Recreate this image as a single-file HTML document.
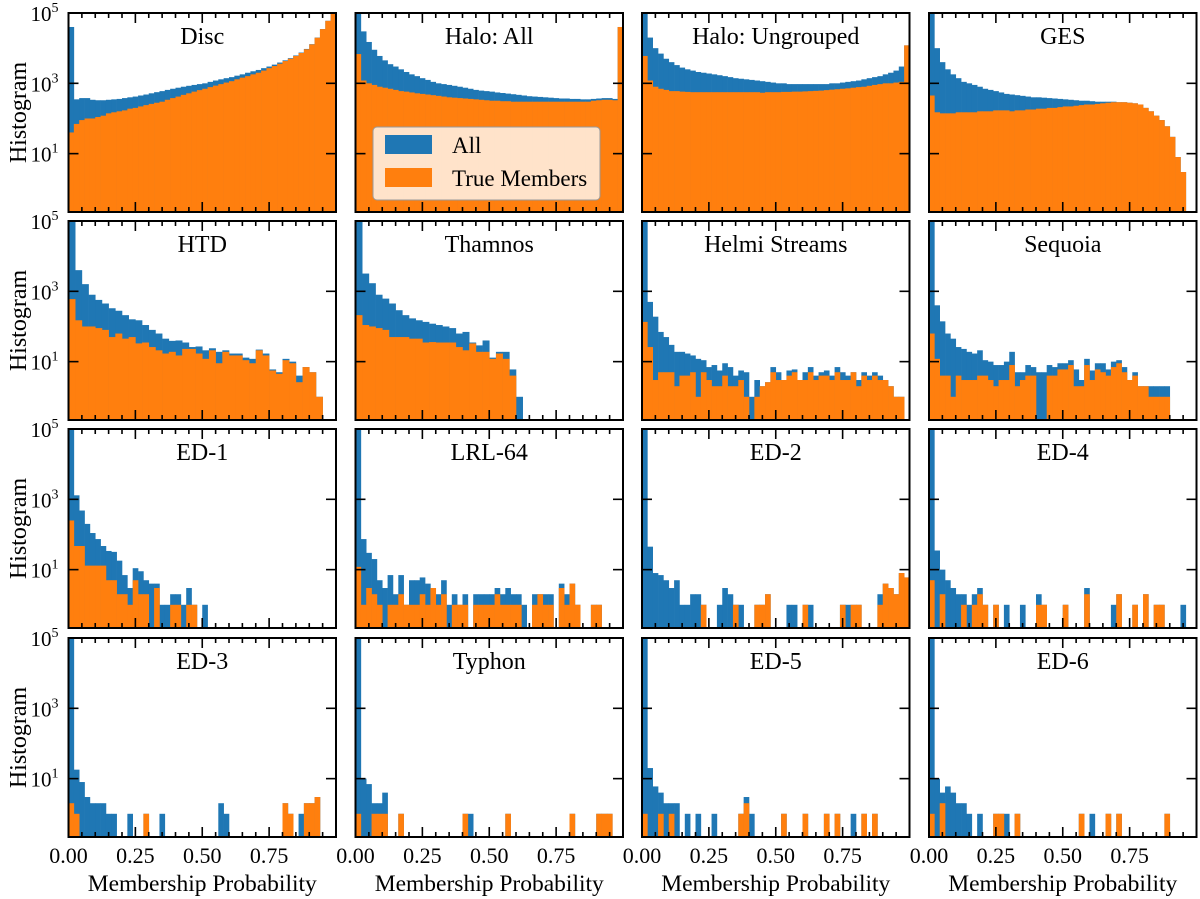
<!DOCTYPE html>
<html><head><meta charset="utf-8"><style>
body{margin:0;background:#fff;}
svg{display:block;font-family:"Liberation Serif",serif;}
</style></head><body>
<svg id="fig" width="1200" height="899" viewBox="0 0 1200 899" xmlns="http://www.w3.org/2000/svg"></svg>
<script>
const panelTitles = ["Disc","Halo: All","Halo: Ungrouped","GES","HTD","Thamnos","Helmi Streams","Sequoia","ED-1","LRL-64","ED-2","ED-4","ED-3","Typhon","ED-5","ED-6"];
const xTickValues = [0,0.25,0.5,0.75];
const xTickLabels = ["0.00","0.25","0.50","0.75"];
const yTickExps = [5,3,1];

const discAll = [40000,350,380,380,340,330,330,340,350,360, 380,400,420,450,480,520,560,600,650,700, 750,800,850,900,950,1000,1100,1200,1300,1400, 1500,1650,1800,2000,2200,2400,2700,3000,3400,3900, 4500,5200,6200,7500,9500,13000,20000,35000,60000,95000];
const discTrue = [40,70,90,100,100,110,120,140,150,160, 170,190,200,220,240,260,280,300,340,380, 420,470,520,580,640,700,780,860,950,1050, 1150,1300,1450,1600,1800,2000,2300,2700,3100,3600, 4300,5000,6000,7300,9300,12800,19800,34800,59800,94800];
const haloAll = [100000,30000,15000,9000,6000,4500,3500,3000,2500,2100, 1800,1600,1400,1250,1100,1000,950,900,850,800, 750,700,650,620,600,580,550,530,510,490, 470,450,430,420,410,400,390,380,370,370, 360,360,350,350,360,370,380,380,360,40000];
const haloTrue = [6800,1200,1000,900,800,750,700,650,600,580, 550,520,500,480,460,440,420,400,390,380, 370,360,350,340,330,320,320,310,310,300, 300,300,300,300,300,300,300,300,300,300, 300,300,300,300,320,330,340,340,330,40000];
const ungAll = [100000,20000,10000,7000,5000,4000,3300,2800,2500,2300, 2100,2000,1900,1800,1700,1600,1500,1400,1350,1300, 1250,1200,1150,1100,1050,1000,1000,950,950,950, 950,950,950,950,950,1000,1000,1050,1100,1150, 1200,1300,1400,1500,1600,1800,2000,2300,3000,12000];
const ungTrue = [6000,1200,800,700,650,600,600,580,570,560, 560,560,560,560,560,560,560,560,560,560, 560,560,540,560,560,560,570,570,580,580, 590,600,610,620,640,660,680,700,720,750, 780,800,850,900,950,1000,1000,1050,1100,12000];
const gesAll = [100000,10000,4000,2500,1800,1400,1100,1000,900,800, 700,650,600,550,500,480,460,440,420,400, 400,390,380,370,360,350,340,330,320,320, 310,300,300,300,300,290,290,280,270,250, 200,160,120,90,60,30,8,3,0,0];
const gesTrue = [450,150,140,140,140,150,150,150,150,160, 160,160,170,170,170,160,170,170,180,180, 190,190,200,200,210,220,220,230,240,250, 250,260,270,280,290,290,290,280,270,250, 200,160,120,90,60,30,8,3,0,0];
const htdAll = [100000,4000,1600,800,570,450,330,280,210,160, 150,110,80,63,45,39,40,35,26,27, 21,24,19,21,17,17,13,12,22,17, 6,5,12,10,4,7,5,1,0,0];
const htdTrue = [600,150,100,100,90,80,50,63,45,50, 33,35,26,21,17,19,15,23,23,17, 12,21,9,19,15,15,11,9,21,15, 5.6,4.5,11,9,2.6,7,5,1,0,0];
const thamAll = [100000,3200,1700,800,620,450,290,210,170,150, 135,120,110,100,90,63,70,35,29,40, 13,19,19,6,1,0,0,0,0,0, 0,0,0,0,0,0,0,0,0,0];
const thamTrue = [210,110,100,90,80,50,50,50,45,45, 35,36,35,35,35,26,21,33,19,19, 12,17,12,4,0,0,0,0,0,0, 0,0,0,0,0,0,0,0,0,0];
const helmiAll = [100000,500,190,70,50,30,19,19,17,15, 12,11,7,8,5.6,9,7,4,5.6,5, 1,3,2,2.6,7,5,3,5.6,6,3, 5,7,4,5,5.6,4,7,5,4,5, 3,5,4,5,4,3,2,1,1,0];
const helmiTrue = [135,26,3,5,5,5,2,4,4,5, 1,5,3,2,2,4,2,2,3,1, 0,1,2,2.6,5,3,3,4,5,3, 3,5,3,4,4,3,5,3,3,5, 2,4,3,4,3,3,2,1,1,0];
const seqAll = [100000,400,140,63,45,26,23,19,17,21, 11,10,8,8,10,19,5,5,8,7, 5,5,8,7,9,9,11,6,3,12, 5.6,9,9,6,10,11,7,3,5,2, 2,2,2,2,2,0,0,0,0,0];
const seqTrue = [63,12,4,4,1,4,3,3,3,4, 4,3,2,3,3,8,2,3,4,4, 0,0,4,4,6,6,8,2,2,8, 3,6,5,4,7,9,5,3,4,2, 2,1,1,1,1,0,0,0,0,0];
const ed1All = [100000,1300,480,200,110,74,47,34,32,18, 7,3,11,9,5,4,4,1,1,2, 2,1,3,1,0,1,0,0,0,0, 0,0,0,0,0,0,0,0,0,0, 0,0,0,0,0,0,0,0,0,0];
const ed1True = [250,47,47,13,13,13,13,5,5,2, 2,1,5,2,2,0,3,0,0,1, 1,0,1,1,0,0,0,0,0,0, 0,0,0,0,0,0,0,0,0,0, 0,0,0,0,0,0,0,0,0,0];
const lrlAll = [100000,74,30,20,5,3,7,2,7,1, 5,5,6,4,2,2,5,1,2,1, 2,0,2,2,2,2,3,2,3,2, 2,1,0,2,2,2,2,0,4,2, 4,1,0,0,1,1,0,0,0,0];
const lrlTrue = [12,1,3,2,1,0,1,1,2,1, 1,1,2,1,3,1,2,0,1,1, 1,0,1,1,1,1,2,1,1,1, 1,0,0,1,2,1,1,0,3,1, 4,1,0,0,1,1,0,0,0,0];
const ed2All = [100000,45,8,7,5,3,5,1,1,2, 2,1,0,0,1,3,2,1,1,0, 0,1,1,2,0,0,0,1,1,0, 1,1,0,0,0,0,0,1,1,1, 1,0,0,0,2,4,3,2,8,6];
const ed2True = [0,0,0,0,0,0,0,0,0,0, 0,1,0,0,0,0,0,1,0,0, 0,1,1,2,0,0,0,0,0,0, 1,0,0,0,0,0,0,1,0,1, 1,0,0,0,1,4,3,2,8,6];
const ed4All = [100000,35,10,5,3,2,2,1,2,3, 1,0,1,0,1,0,0,1,0,0, 2,1,0,0,0,1,0,0,0,3, 0,0,0,0,1,2,0,0,1,0, 2,0,1,1,0,0,0,1,0,0];
const ed4True = [5,0,2,0,0,0,1,0,1,2, 1,0,1,0,0,0,0,0,0,0, 1,1,0,0,0,1,0,0,0,2, 0,0,0,0,0,2,0,0,1,0, 2,0,1,1,0,0,0,0,0,0];
const ed3All = [100000,18,8,3,2,2,2,1,1,0, 0,1,0,0,1,0,0,1,0,0, 0,0,0,0,0,0,0,0,2,1, 0,0,0,0,0,0,0,0,0,0, 2,1,0,1,2,2,3,0,0,0];
const ed3True = [2,1,0,0,0,0,0,0,0,0, 0,0,0,0,1,0,0,0,0,0, 0,0,0,0,0,0,0,0,0,0, 0,0,0,0,0,0,0,0,0,0, 2,1,0,0,2,2,3,0,0,0];
const typAll = [100000,10,7,2,2,4,0,0,1,0, 0,0,0,0,0,0,0,0,0,0, 1,1,0,0,0,0,0,0,1,0, 0,0,0,0,0,0,0,0,0,0, 1,0,0,0,0,1,1,1,0,0];
const typTrue = [1,0,0,1,1,1,0,0,1,0, 0,0,0,0,0,0,0,0,0,0, 1,0,0,0,0,0,0,0,1,0, 0,0,0,0,0,0,0,0,0,0, 1,0,0,0,0,1,1,1,0,0];
const ed5All = [100000,20,6,4,2,2,2,0,1,0, 1,0,0,1,0,0,0,0,1,3, 1,0,0,0,0,0,1,0,0,0, 1,0,0,0,1,0,1,0,0,1, 0,1,0,1,0,0,0,0,0,0];
const ed5True = [1,0,0,1,0,1,0,0,0,0, 0,0,0,0,0,0,0,0,1,2, 0,0,0,0,0,0,1,0,0,0, 1,0,0,0,1,0,1,0,0,0, 0,1,0,1,0,0,0,0,0,0];
const ed6All = [100000,10,4,6,4,2,2,1,0,1, 0,0,1,1,1,0,1,0,0,0, 0,0,0,0,0,0,0,0,1,0, 1,0,0,1,0,1,0,0,0,0, 0,0,0,0,1,0,0,0,0,0];
const ed6True = [1,0,2,0,0,0,0,0,0,0, 0,0,1,1,0,0,1,0,0,0, 0,0,0,0,0,0,0,0,1,0, 0,0,0,1,0,1,0,0,0,0, 0,0,0,0,1,0,0,0,0,0];

const allSeries = [discAll,haloAll,ungAll,gesAll,htdAll,thamAll,helmiAll,seqAll,ed1All,lrlAll,ed2All,ed4All,ed3All,typAll,ed5All,ed6All];
const trueSeries = [discTrue,haloTrue,ungTrue,gesTrue,htdTrue,thamTrue,helmiTrue,seqTrue,ed1True,lrlTrue,ed2True,ed4True,ed3True,typTrue,ed5True,ed6True];

const NS = "http://www.w3.org/2000/svg";
const svg = document.getElementById('fig');
const colLeft = [68.5, 355.5, 642, 929];
const rowTop = [13, 221, 429, 638];
const PW = 267.5, PH = 199;
const LMAX = 5, LMIN = -0.66;
function mk(tag, attrs, parent) {
  const e = document.createElementNS(NS, tag);
  for (const k in attrs) e.setAttribute(k, attrs[k]);
  (parent || svg).appendChild(e);
  return e;
}
const defs = mk('defs', {});
for (let p = 0; p < 16; p++) {
  const r = Math.floor(p / 4), c = p % 4;
  const L = colLeft[c], T = rowTop[r];
  const xs = v => L + v * PW;
  const ys = n => T + (LMAX - Math.log10(n)) / (LMAX - LMIN) * PH;
  const cp = mk('clipPath', {id: 'clip' + p}, defs);
  mk('rect', {x: L, y: T, width: PW, height: PH}, cp);
  const g = mk('g', {'clip-path': 'url(#clip' + p + ')'});
  
  
  [[allSeries[p], '#1f77b4', 'all'], [trueSeries[p], '#ff7f0e', 'true']].forEach(([arr, col, nm]) => {
    const bw = 1 / arr.length;
    arr.forEach((n, i) => {
      if (n <= 0) return;
      const x0 = xs(i * bw), x1 = xs((i + 1) * bw), y0 = ys(n);
      const b = mk('rect', {x: x0, y: y0, width: x1 - x0 + 0.3, height: T + PH - y0, fill: col}, g);
      
      
    });
  });
  const tg = mk('g', {stroke: '#000', 'stroke-width': 1.6});
  
  
  for (let k = 0; k <= 19; k++) {
    const v = k * 0.05;
    const major = (k % 5 === 0);
    const len = major ? 10 : 5;
    const x = xs(v);
    mk('line', {x1: x, x2: x, y1: T + PH, y2: T + PH - len}, tg);
    mk('line', {x1: x, x2: x, y1: T, y2: T + len}, tg);
  }
  yTickExps.forEach(e => {
    const y = ys(Math.pow(10, e));
    mk('line', {x1: L, x2: L + 10, y1: y, y2: y}, tg);
    mk('line', {x1: L + PW, x2: L + PW - 10, y1: y, y2: y}, tg);
  });
  const fr = mk('rect', {x: L, y: T, width: PW, height: PH, fill: 'none', stroke: '#000', 'stroke-width': 2});
  
  
  const tt = mk('text', {x: L + PW / 2, y: T + 31, 'text-anchor': 'middle', 'font-size': 24});
  
  
  tt.textContent = panelTitles[p];
  if (c === 0) {
    yTickExps.forEach(e => {
      const y = ys(Math.pow(10, e));
      const t = mk('text', {x: L - 24, y: y + 8, 'text-anchor': 'middle', 'font-size': 21});
      
      
      t.textContent = '10';
      const s = mk('tspan', {dy: -9, 'font-size': 14}, t);
      s.textContent = String(e);
    });
    const yl = mk('text', {x: 0, y: 0, 'text-anchor': 'middle', 'font-size': 24, transform: 'translate(26,' + (T + PH / 2) + ') rotate(-90)'});
    
    
    yl.textContent = 'Histogram';
  }
  if (r === 3) {
    xTickValues.forEach((v, i) => {
      const t = mk('text', {x: xs(v), y: T + PH + 26, 'text-anchor': 'middle', 'font-size': 22});
      
      
      t.textContent = xTickLabels[i];
    });
    const xl = mk('text', {x: L + PW / 2, y: T + PH + 54, 'text-anchor': 'middle', 'font-size': 23.5});
    
    
    xl.textContent = 'Membership Probability';
  }
}
const lg = mk('g', {});


mk('rect', {x: 373, y: 127, width: 227, height: 73, rx: 4, fill: '#ffffff', 'fill-opacity': 0.78, stroke: '#999', 'stroke-width': 1}, lg);
const lb = mk('rect', {x: 385, y: 135, width: 47, height: 19, fill: '#1f77b4'}, lg);


const lt1 = mk('text', {x: 452, y: 153, 'font-size': 23}, lg);


lt1.textContent = 'All';
const lo = mk('rect', {x: 385, y: 168, width: 47, height: 19, fill: '#ff7f0e'}, lg);


const lt2 = mk('text', {x: 452, y: 186, 'font-size': 23}, lg);


lt2.textContent = 'True Members';
</script>
</body></html>
